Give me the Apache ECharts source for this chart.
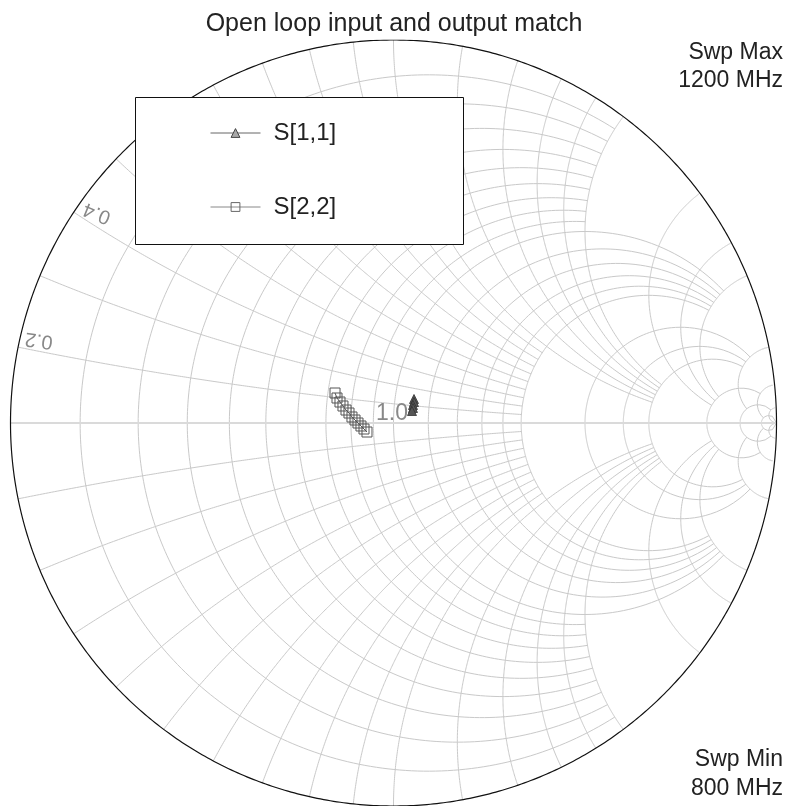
<!DOCTYPE html>
<html><head><meta charset="utf-8">
<script src="https://cdn.jsdelivr.net/npm/echarts@6/dist/echarts.min.js"></script>
<style>html,body{margin:0;padding:0;background:#fff}#c{width:788px;height:806px}</style>
</head><body><div id="c"></div>
<script>
// ---- text ----
const titleText = 'Open loop input and output match';
const sweepMaxText = ['Swp Max', '1200 MHz'];
const sweepMinText = ['Swp Min', '800 MHz'];
const seriesNames = ['S[1,1]', 'S[2,2]'];
const gridLabelTexts = ['0.2', '0.4', '1.0'];

// ---- Smith grid values (circle value, extent limit) ----
const gridValues = [50, 20, 10, 5, 4, 3, 2, 1.8, 1.6, 1.4, 1.2, 1.0, 0.9, 0.8, 0.7, 0.6, 0.5, 0.4, 0.3, 0.2, 0.1];
const gridLimits = [Infinity, 50, 20, 10, 10, 10, 5, 5, 5, 5, 5, 5, 2, 2, 2, 2, 2, 2, 2, 2, 2];

const s11Re = [0.0535, 0.0535, 0.0509, 0.0509, 0.0483];
const s11Im = [0.0627, 0.0548, 0.0470, 0.0392, 0.0313];
const s22Re = [-0.1527, -0.1475, -0.1397, -0.1319, -0.1240, -0.1162, -0.1084, -0.1005, -0.0927, -0.0849, -0.0770, -0.0692];
const s22Im = [0.0783, 0.0653, 0.0548, 0.0444, 0.0339, 0.0261, 0.0157, 0.0078, 0.0000, -0.0078, -0.0157, -0.0235];

// impedance -> reflection coefficient
function gam(r, x) {
  const d = (r + 1) * (r + 1) + x * x;
  return [(r * r - 1 + x * x) / d, 2 * x / d];
}
const N = 260;
const gridCurves = [];
gridValues.forEach((v, i) => {
  const lim = gridLimits[i];
  const U = lim === Infinity ? Math.PI / 2 - 1e-5 : Math.atan(lim);
  const rc = [];
  for (let k = 0; k <= N; k++) {
    const u = -U + 2 * U * k / N;
    rc.push(gam(v, Math.tan(u)));
  }
  gridCurves.push(rc);
  [1, -1].forEach(sg => {
    const xc = [];
    for (let k = 0; k <= N; k++) {
      const u = U * k / N;
      xc.push(gam(Math.tan(u), sg * v));
    }
    gridCurves.push(xc);
  });
});
const outer = [];
for (let k = 0; k <= 720; k++) {
  const t = 2 * Math.PI * k / 720;
  outer.push([Math.cos(t), Math.sin(t)]);
}

const chart = echarts.init(document.getElementById('c'), null, {renderer: 'canvas'});
const FONT = 'Liberation Sans';
chart.setOption({
  animation: false,
  backgroundColor: '#fff',
  title: {
    text: titleText, left: 'center', top: 12, padding: 0,
    textStyle: {fontSize: 25, fontWeight: 'normal', color: '#222', fontFamily: FONT}
  },
  grid: {left: 10.5, top: 40, width: 766, height: 766},
  xAxis: {type: 'value', min: -1, max: 1, show: false},
  yAxis: {type: 'value', min: -1, max: 1, show: false},
  legend: {
    data: [
      {name: seriesNames[0], itemStyle: {color: '#a8a8a8', borderColor: '#444', borderWidth: 1}, lineStyle: {color: '#666', width: 1}},
      {name: seriesNames[1], itemStyle: {color: 'rgba(255,255,255,0)', borderColor: '#666', borderWidth: 1}, lineStyle: {color: '#888', width: 1}}
    ],
    orient: 'vertical', left: 210, top: 118, padding: 0,
    itemWidth: 50, itemHeight: 11, itemGap: 44,
    textStyle: {fontSize: 24, color: '#222', fontFamily: FONT, lineHeight: 30, padding: [0, 0, 0, 8]}
  },
  graphic: [
    {type: 'rect', z: 3, shape: {x: 135.5, y: 97.5, width: 328, height: 147}, style: {fill: '#fff', stroke: '#111', lineWidth: 1}},
    {type: 'text', x: 783, y: 53, z: 3, style: {text: sweepMaxText[0], fontSize: 23, fill: '#222', fontFamily: FONT, align: 'right', verticalAlign: 'middle'}},
    {type: 'text', x: 783, y: 81, z: 3, style: {text: sweepMaxText[1], fontSize: 23, fill: '#222', fontFamily: FONT, align: 'right', verticalAlign: 'middle'}},
    {type: 'text', x: 783, y: 760, z: 3, style: {text: sweepMinText[0], fontSize: 23, fill: '#222', fontFamily: FONT, align: 'right', verticalAlign: 'middle'}},
    {type: 'text', x: 783, y: 789, z: 3, style: {text: sweepMinText[1], fontSize: 23, fill: '#222', fontFamily: FONT, align: 'right', verticalAlign: 'middle'}},
    {type: 'text', x: 39, y: 340, rotation: 172 * Math.PI / 180, z: 3, style: {text: gridLabelTexts[0], fontSize: 20, fill: '#888', fontFamily: FONT, align: 'center', verticalAlign: 'middle'}},
    {type: 'text', x: 97, y: 213, rotation: 158 * Math.PI / 180, z: 3, style: {text: gridLabelTexts[1], fontSize: 20, fill: '#888', fontFamily: FONT, align: 'center', verticalAlign: 'middle'}},
    {type: 'text', x: 392, y: 414, z: 3, style: {text: gridLabelTexts[2], fontSize: 23, fill: '#888', fontFamily: FONT, align: 'center', verticalAlign: 'middle'}}
  ],
  series: [
    {type: 'lines', coordinateSystem: 'cartesian2d', polyline: true, silent: true, z: 1,
     lineStyle: {color: '#c9c9c9', width: 1, opacity: 1}, data: gridCurves.map(c => ({coords: c}))},
    {type: 'lines', coordinateSystem: 'cartesian2d', polyline: true, silent: true, z: 1,
     lineStyle: {color: '#dadada', width: 2, opacity: 1}, data: [{coords: [[-1, 0], [1, 0]]}]},
    {type: 'lines', coordinateSystem: 'cartesian2d', polyline: true, silent: true, z: 1,
     lineStyle: {color: '#111', width: 1.2, opacity: 1}, data: [{coords: outer}]},
    {name: seriesNames[0], type: 'line', z: 5, data: s11Re.map((v, i) => [v, s11Im[i]]),
     symbol: 'triangle', symbolSize: 9, showAllSymbol: true,
     lineStyle: {color: '#444', width: 1}, itemStyle: {color: '#555', borderColor: '#333', borderWidth: 0.8}},
    {name: seriesNames[1], type: 'line', z: 5, data: s22Re.map((v, i) => [v, s22Im[i]]),
     symbol: 'rect', symbolSize: 10, showAllSymbol: true,
     lineStyle: {color: '#555', width: 1}, itemStyle: {color: 'rgba(255,255,255,0)', borderColor: '#555', borderWidth: 1}}
  ]
});
</script>
</body></html>
